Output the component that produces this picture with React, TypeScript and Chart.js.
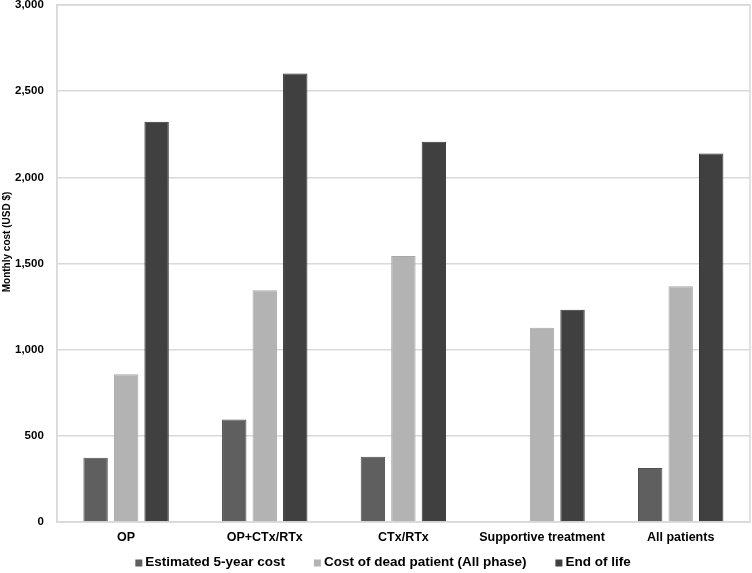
import React, { useEffect, useRef } from "react";
import { Chart, registerables } from "chart.js";

Chart.register(...registerables);

const categories = ["OP", "OP+CTx/RTx", "CTx/RTx", "Supportive treatment", "All patients"];
const estimated5Year = [373, 595, 378, 0, 314];
const costDeadPatient = [857, 1345, 1543, 1127, 1368];
const endOfLife = [2322, 2603, 2207, 1232, 2138];
const yTicks = [0, 500, 1000, 1500, 2000, 2500, 3000];
const yTitle = "Monthly cost (USD $)";

const FONT = "'Liberation Sans', Arial, sans-serif";

const framePlugin = {
  id: "frame",
  beforeDatasetsDraw(chart: any) {
    const { ctx, chartArea } = chart;
    ctx.save();
    ctx.strokeStyle = "#d9d9d9";
    ctx.lineWidth = 1.5;
    ctx.strokeRect(chartArea.left, chartArea.top, chartArea.right - chartArea.left, chartArea.bottom - chartArea.top);
    ctx.restore();
  },
  afterDraw(chart: any) {
    const { ctx } = chart;
    // y-axis title
    ctx.save();
    ctx.translate(7, 242);
    ctx.rotate(-Math.PI / 2);
    ctx.font = `bold 10px ${FONT}`;
    ctx.fillStyle = "#000";
    ctx.textAlign = "center";
    ctx.textBaseline = "middle";
    ctx.fillText(yTitle, 0, 0);
    ctx.restore();

    // legend
    ctx.save();
    ctx.font = `bold 13.5px ${FONT}`;
    ctx.textBaseline = "middle";
    ctx.textAlign = "left";
    const box = 7;
    const gap = 3;
    const spacing = 29;
    const items = chart.data.datasets.map((d: any) => ({
      label: d.label,
      color: d.backgroundColor,
      w: box + gap + ctx.measureText(d.label).width,
    }));
    const total = items.reduce((s: number, it: any) => s + it.w, 0) + spacing * (items.length - 1);
    let x = 383 - total / 2;
    const cy = 562;
    items.forEach((it: any) => {
      ctx.fillStyle = it.color;
      ctx.fillRect(x, cy - box / 2 + 1, box, box);
      ctx.fillStyle = "#000";
      ctx.fillText(it.label, x + box + gap, cy);
      x += it.w + spacing;
    });
    ctx.restore();
  },
};

export default function App() {
  const ref = useRef<HTMLCanvasElement | null>(null);
  useEffect(() => {
    document.body.style.margin = "0";
    if (!ref.current) return;
    const chart = new Chart(ref.current, {
      type: "bar",
      data: {
        labels: categories,
        datasets: [
          {
            label: "Estimated 5-year cost",
            data: estimated5Year,
            backgroundColor: "#5f5f5f",
            borderColor: "#4f4f4f",
            borderWidth: 1,
          },
          {
            label: "Cost of dead patient (All phase)",
            data: costDeadPatient,
            backgroundColor: "#b3b3b3",
            borderColor: "#a8a8a8",
            borderWidth: 1,
          },
          {
            label: "End of life",
            data: endOfLife,
            backgroundColor: "#404040",
            borderColor: "#333333",
            borderWidth: 1,
          },
        ],
      },
      options: {
        responsive: false,
        animation: false,
        categoryPercentage: 0.66,
        barPercentage: 0.8,
        layout: { padding: { left: 15, right: 2, top: 5, bottom: 20 } },
        plugins: {
          legend: { display: false },
          tooltip: { enabled: false },
        },
        scales: {
          x: {
            grid: { display: false, drawTicks: false },
            border: { display: false },
            ticks: {
              color: "#000",
              padding: 8,
              maxRotation: 0,
              autoSkip: false,
              font: { family: FONT, size: 12.5, weight: "bold" },
            },
          },
          y: {
            min: 0,
            max: 3000,
            afterBuildTicks: (axis: any) => {
              axis.ticks = yTicks.map((v) => ({ value: v }));
            },
            grid: { color: "#d9d9d9", lineWidth: 1.5, drawTicks: true, tickLength: 13, tickColor: "rgba(0,0,0,0)" },
            border: { display: true, color: "#d9d9d9", width: 1.5 },
            ticks: {
              color: "#000",
              padding: 0,
              font: { family: FONT, size: 11.5, weight: "bold", lineHeight: 0.8 },
              callback: (v: any) => Number(v).toLocaleString("en-US"),
            },
          },
        },
      },
      plugins: [framePlugin],
    });
    return () => chart.destroy();
  }, []);
  return (
    <div style={{ width: 752, height: 573 }}>
      <canvas ref={ref} width={752} height={573} />
    </div>
  );
}
